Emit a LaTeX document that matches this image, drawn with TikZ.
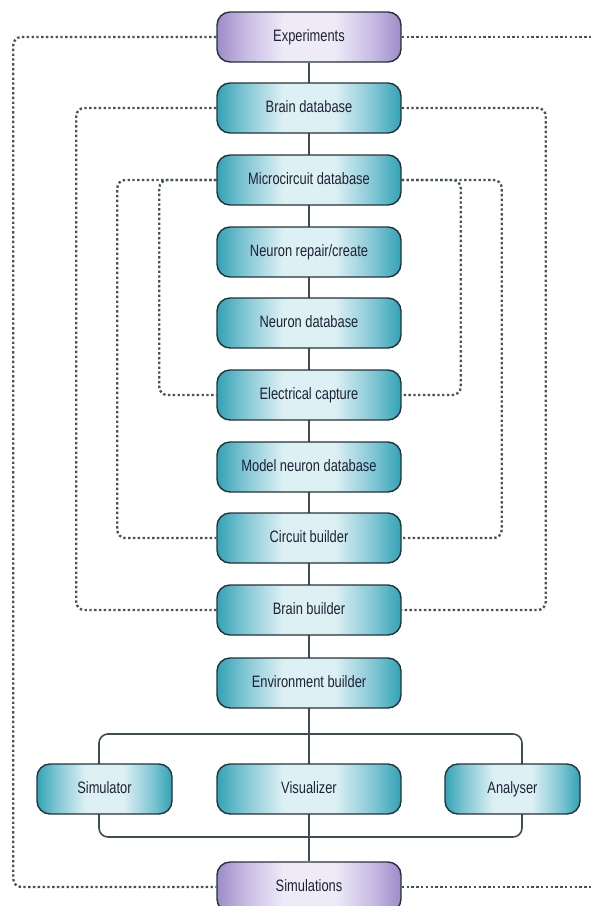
\documentclass[tikz,border=0pt]{standalone}
\usepackage{fontspec}
\setmainfont{Liberation Sans}[FakeStretch=0.78]
\definecolor{boxline}{HTML}{24323A}
\definecolor{tealdark}{HTML}{32A3B5}
\definecolor{tealmid}{HTML}{86C9D6}
\definecolor{teallight}{HTML}{DDF0F4}
\definecolor{purpdark}{HTML}{9E8BC9}
\definecolor{purpmid}{HTML}{C8BCE4}
\definecolor{purplight}{HTML}{EEEAF8}
\definecolor{txt}{HTML}{1E2236}
\definecolor{connc}{HTML}{3E4D54}
\definecolor{dotc}{HTML}{44525C}
\pgfdeclarehorizontalshading{tealsh}{100bp}{color(0bp)=(tealdark); color(25bp)=(tealdark); color(33bp)=(tealmid); color(43bp)=(teallight); color(57bp)=(teallight); color(67bp)=(tealmid); color(75bp)=(tealdark); color(100bp)=(tealdark)}
\pgfdeclarehorizontalshading{purpsh}{100bp}{color(0bp)=(purpdark); color(25bp)=(purpdark); color(33bp)=(purpmid); color(43bp)=(purplight); color(57bp)=(purplight); color(67bp)=(purpmid); color(75bp)=(purpdark); color(100bp)=(purpdark)}
\pgfdeclarelayer{bg}
\pgfsetlayers{bg,main}
\begin{document}
\begin{tikzpicture}[x=1pt,y=-1pt,
  box/.style={draw=boxline, line width=1.4pt, rounded corners=13pt, minimum height=50pt,
    minimum width=184pt, inner sep=0pt, text height=12pt, text depth=3.5pt,
    font=\fontsize{16.5}{18}\selectfont, text=txt},
  teal/.style={box, shading=tealsh},
  purp/.style={box, shading=purpsh},
  conn/.style={draw=connc, line width=1.6pt},
  dl/.style={draw=dotc, line width=2.3pt, dash pattern=on 2.4pt off 2.4pt, rounded corners=8pt}]
\useasboundingbox (0,0) rectangle (594,906);
% nodes
\node[purp] (exp) at (309,37) {Experiments};
\node[teal] (bdb) at (309,108) {Brain database};
\node[teal] (mdb) at (309,180) {Microcircuit database};
\node[teal] (nrc) at (309,252) {Neuron repair/create};
\node[teal] (ndb) at (309,323) {Neuron database};
\node[teal] (ec) at (309,395) {Electrical capture};
\node[teal] (mnd) at (309,467) {Model neuron database};
\node[teal] (cb) at (309,538) {Circuit builder};
\node[teal] (bb) at (309,610) {Brain builder};
\node[teal] (env) at (309,683) {Environment builder};
\node[teal, minimum width=135pt] (sim) at (104.5,789) {Simulator};
\node[teal] (vis) at (309,789) {Visualizer};
\node[teal, minimum width=135pt] (ana) at (512.5,789) {Analyser};
\node[purp] (sims) at (309,887) {Simulations};
\coordinate (er) at (600,37);
\coordinate (sr) at (600,887);
\coordinate (brtl) at (99,734);
\coordinate (brbr) at (522,837);
\begin{pgfonlayer}{bg}
\draw[conn] (exp.south) -- (sims.north);
\draw[conn, rounded corners=9pt] (brtl) rectangle (brbr);
\draw[dl] (exp.west) -- ++(-203,0) |- (sims.west);
\draw[dl] (exp.east) -- (er);
\draw[dl] (sims.east) -- (sr);
\draw[dl] (bdb.west) -- ++(-140,0) |- (bb.west);
\draw[dl] (bdb.east) -- ++(144,0) |- (bb.east);
\draw[dl] (mdb.west) -- ++(-99,0) |- (cb.west);
\draw[dl] (mdb.east) -- ++(100,0) |- (cb.east);
\draw[dl] (mdb.west) -- ++(-57,0) |- (ec.west);
\draw[dl] (mdb.east) -- ++(59,0) |- (ec.east);
\end{pgfonlayer}
\end{tikzpicture}
\end{document}
